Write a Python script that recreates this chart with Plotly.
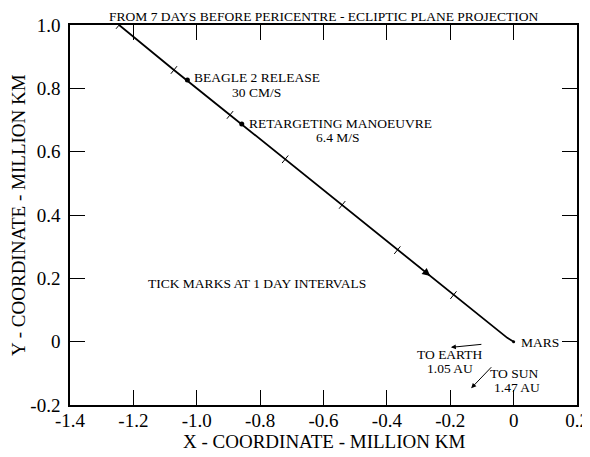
import plotly.graph_objects as go

# Trajectory (million km), one point per day from 7 days before pericentre, ending at Mars
traj_x = [-1.245, -1.072, -0.895, -0.721, -0.541, -0.367, -0.190, -0.020, 0.0]
traj_y = [1.000, 0.858, 0.716, 0.576, 0.432, 0.289, 0.147, 0.012, 0.0]
# day tick marks along trajectory
day_x = [-1.245, -1.072, -0.895, -0.721, -0.541, -0.367, -0.190]
day_y = [1.000, 0.858, 0.716, 0.576, 0.432, 0.289, 0.147]
# events
event_x = [-1.0295, -0.858]
event_y = [0.826, 0.687]
event_names = ["BEAGLE 2 RELEASE", "RETARGETING MANOEUVRE"]
event_dv = ["30 CM/S", "6.4 M/S"]
# direction arrow on trajectory
dir_tail = (-0.305, 0.242)
dir_head = (-0.263, 0.207)
# Earth / Sun direction arrows
earth_tail = (-0.097, -0.008)
earth_head = (-0.198, -0.018)
sun_tail = (-0.066, -0.076)
sun_head = (-0.134, -0.147)

x_ticks = [-1.4, -1.2, -1.0, -0.8, -0.6, -0.4, -0.2, 0, 0.2]
x_ticklabels = ["-1.4", "-1.2", "-1.0", "-0.8", "-0.6", "-0.4", "-0.2", "0", "0.2"]
y_ticks = [-0.2, 0, 0.2, 0.4, 0.6, 0.8, 1.0]
y_ticklabels = ["-0.2", "0", "0.2", "0.4", "0.6", "0.8", "1.0"]

FONT = "Liberation Serif"

fig = go.Figure()
fig.add_trace(go.Scatter(x=traj_x, y=traj_y, mode="lines",
                         line=dict(color="black", width=1.8), showlegend=False,
                         hoverinfo="skip"))
fig.add_trace(go.Scatter(x=day_x, y=day_y, mode="markers",
                         marker=dict(symbol="line-ns", size=7, angle=39,
                                     line=dict(color="black", width=1)),
                         showlegend=False))
fig.add_trace(go.Scatter(x=event_x, y=event_y, mode="markers",
                         marker=dict(symbol="circle", size=5, color="black"),
                         showlegend=False))
fig.add_trace(go.Scatter(x=[0], y=[0], mode="markers",
                         marker=dict(symbol="circle", size=3, color="black"),
                         showlegend=False))

ann = []
def txt(x, y, s, xanchor="center"):
    ann.append(dict(x=x, y=y, xref="x", yref="y", text=s, showarrow=False,
                    xanchor=xanchor, yanchor="middle", borderpad=0,
                    font=dict(family=FONT, size=13.5, color="black")))

txt(-1.0116, 0.833, event_names[0], "left")
txt(-0.8126, 0.788, event_dv[0])
txt(-0.838, 0.690, event_names[1], "left")
txt(-0.5536, 0.646, event_dv[1])
txt(-1.157, 0.185, "TICK MARKS AT 1 DAY INTERVALS", "left")
txt(0.021, -0.004, "MARS", "left")
txt(-0.200, -0.042, "TO EARTH")
txt(-0.200, -0.086, "1.05 AU")
txt(0.002, -0.100, "TO SUN")
txt(0.010, -0.146, "1.47 AU")

def arrow(tail, head, size=1.0, head_style=2):
    ann.append(dict(x=head[0], y=head[1], ax=tail[0], ay=tail[1],
                    xref="x", yref="y", axref="x", ayref="y", text="",
                    showarrow=True, arrowhead=head_style, arrowsize=size,
                    arrowwidth=1, arrowcolor="black"))

arrow(dir_tail, dir_head, 1.6, 2)
arrow(earth_tail, earth_head, 1.0, 2)
arrow(sun_tail, sun_head, 1.0, 2)

# chart title and axis titles
ann.append(dict(x=0.5, y=1, xref="paper", yref="paper", yanchor="middle",
                yshift=9, showarrow=False,
                text="FROM 7 DAYS BEFORE PERICENTRE - ECLIPTIC PLANE PROJECTION",
                font=dict(family=FONT, size=13.5, color="black")))
ann.append(dict(x=0.5, y=0, xref="paper", yref="paper", yanchor="middle",
                yshift=-36, showarrow=False, text="X - COORDINATE - MILLION KM",
                font=dict(family=FONT, size=19, color="black")))
ann.append(dict(x=0, y=0.5, xref="paper", yref="paper", xanchor="center",
                xshift=-52, textangle=-90, showarrow=False,
                text="Y - COORDINATE - MILLION KM",
                font=dict(family=FONT, size=19, color="black")))

axis_common = dict(showgrid=False, zeroline=False, showline=True, linecolor="black",
                   linewidth=1.5, mirror="ticks", ticks="inside", ticklen=15,
                   tickwidth=1, tickcolor="black", automargin=False,
                   ticklabeloverflow="allow",
                   tickfont=dict(family=FONT, size=19, color="black"))

# The page body has an 8px margin; margins are set so the plot area lands
# where the reference has it inside the 590x457 window.
fig.update_layout(
    width=590, height=457,
    margin=dict(l=62, r=21, t=17, b=60, autoexpand=False),
    paper_bgcolor="white", plot_bgcolor="white",
    font=dict(family=FONT),
    annotations=ann,
    xaxis=dict(range=[-1.4, 0.2], tickvals=x_ticks, ticktext=x_ticklabels,
               ticklabelstandoff=-3, **axis_common),
    yaxis=dict(range=[-0.2, 1.0], tickvals=y_ticks, ticktext=y_ticklabels,
               ticklabelstandoff=4, **axis_common),
)

fig.write_html("out.html")
